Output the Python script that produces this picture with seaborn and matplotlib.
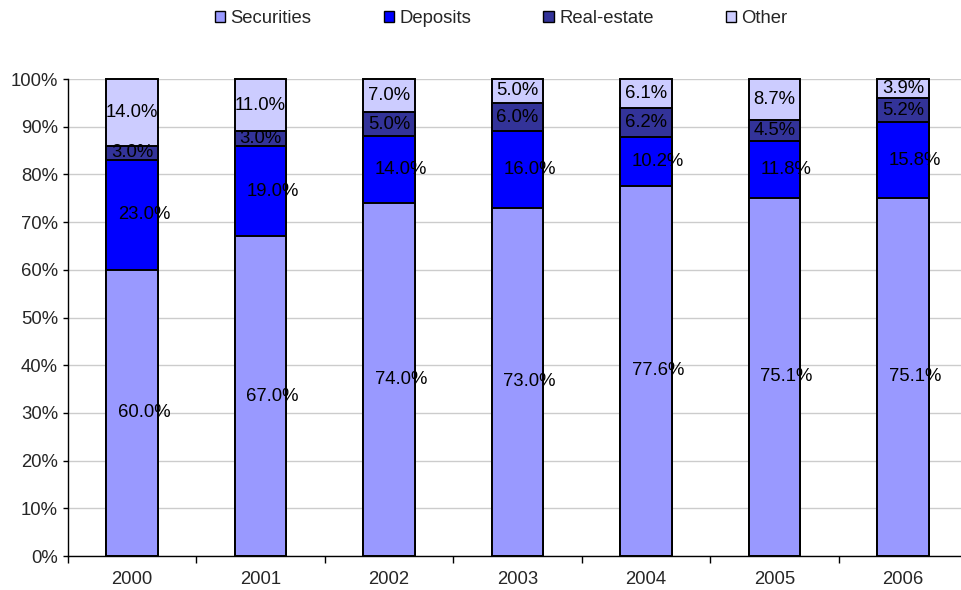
import numpy as np
import pandas as pd
import matplotlib
matplotlib.use("Agg")
import matplotlib.pyplot as plt
import seaborn as sns
from matplotlib.patches import Patch
from matplotlib.ticker import FixedLocator, FuncFormatter

# Portfolio composition by year (percent of total)
years = ["2000", "2001", "2002", "2003", "2004", "2005", "2006"]
securities = [60.0, 67.0, 74.0, 73.0, 77.6, 75.1, 75.1]
deposits = [23.0, 19.0, 14.0, 16.0, 10.2, 11.8, 15.8]
real_estate = [3.0, 3.0, 5.0, 6.0, 6.2, 4.5, 5.2]
other = [14.0, 11.0, 7.0, 5.0, 6.1, 8.7, 3.9]

series_names = ["Securities", "Deposits", "Real-estate", "Other"]
series_values = [securities, deposits, real_estate, other]
colors = ["#9999FF", "#0000FF", "#333399", "#CCCCFF"]
# horizontal nudge of the value labels for each series (in bar slots)
label_shift = [0.093, 0.093, 0.0, 0.0]

sns.set_style("ticks")
plt.rcParams["font.family"] = ["Liberation Sans", "DejaVu Sans"]
FS = 13.3

df = pd.DataFrame({"year": years})
for name, vals in zip(series_names, series_values):
    df[name] = vals
cum = df[series_names].cumsum(axis=1)
lower = cum.shift(1, axis=1).fillna(0)

fig = plt.figure(figsize=(9.62, 5.90), dpi=100)
ax = fig.add_axes([0.0704, 0.0576, 0.935, 0.8085])

# Stack by drawing cumulative totals from the top layer down
for name, color in reversed(list(zip(series_names, colors))):
    sns.barplot(data=cum.assign(year=years), x="year", y=name, color=color,
                saturation=1, width=0.4, edgecolor="black", linewidth=1.4,
                errorbar=None, ax=ax, zorder=2)
for p in ax.patches:
    p.set_clip_on(False)

# Segment value labels
for j, name in enumerate(series_names):
    for i in range(len(years)):
        v = df[name].iloc[i]
        mid = lower[name].iloc[i] + v / 2
        ax.text(i + label_shift[j], mid, f"{v:.1f}%", ha="center", va="center",
                fontsize=FS, color="black", zorder=3)

ax.set_xlim(-0.5, len(years) - 0.5)
ax.set_ylim(0, 100)
ax.set_xlabel("")
ax.set_ylabel("")

ax.yaxis.set_major_locator(FixedLocator(np.arange(0, 101, 10)))
ax.yaxis.set_major_formatter(FuncFormatter(lambda v, _: f"{int(round(v))}%"))
ax.yaxis.grid(True, color="#CCCCCC", linewidth=1.0, zorder=0)
ax.set_axisbelow(True)

ax.xaxis.set_minor_locator(FixedLocator(np.arange(-0.5, len(years), 1.0)))
ax.tick_params(axis="x", which="major", length=0, pad=11, labelsize=FS)
ax.tick_params(axis="x", which="minor", length=5, width=1, direction="out", color="black")
ax.tick_params(axis="y", which="major", length=3.6, width=1, pad=3.5,
               direction="out", labelsize=FS, color="black")

for s in ["top", "right"]:
    ax.spines[s].set_visible(False)
for s in ["left", "bottom"]:
    ax.spines[s].set_color("black")
    ax.spines[s].set_linewidth(1.0)

handles = [Patch(facecolor=c, edgecolor="black", linewidth=1.0, label=n)
           for n, c in zip(series_names, colors)]
fig.legend(handles=handles, loc="center", bbox_to_anchor=(0.521, 0.968),
           ncol=4, frameon=False, fontsize=FS, handlelength=0.55,
           handleheight=0.55, handletextpad=0.3, columnspacing=3.9)

fig.savefig("out.png", dpi=100)
